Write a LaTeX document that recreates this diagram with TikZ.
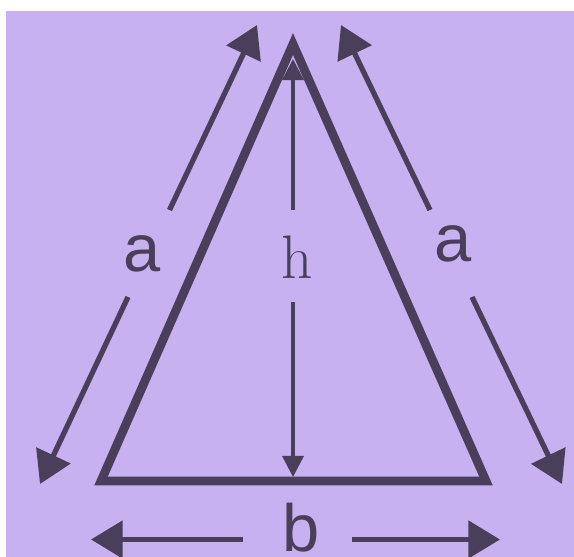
\documentclass[tikz,border=0pt]{standalone}
\usepackage{fontspec}
\newfontfamily\sidefont{Liberation Sans}
\usetikzlibrary{arrows.meta}

\definecolor{lilac}{RGB}{200,177,240}
\definecolor{ink}{RGB}{74,63,90}

\begin{document}
\begin{tikzpicture}[
  x=0.02cm, y=-0.02cm,
  side/.style={draw=ink, line width=5pt, line join=miter},
  dimline/.style={draw=ink, line width=3pt, -{Triangle[length=18pt, width=21pt]}},
  hline/.style={draw=ink, line width=1.9pt, -{Triangle[length=12pt, width=12pt]}},
  sidelabel/.style={anchor=base, inner sep=0pt, text=ink, font=\sidefont\fontsize{38}{40}\selectfont},
  hlabel/.style={anchor=base, inner sep=0pt, text=ink, font=\fontsize{35}{40}\selectfont}]
  % frame
  \useasboundingbox (0,0) rectangle (574,557);
  \fill[white] (0,0) rectangle (574,557);
  \fill[lilac] (5.5,11) rectangle (574,557);
  % triangle
  \coordinate (apex) at (293,44);
  \coordinate (bl) at (101,481);
  \coordinate (br) at (486,481);
  \draw[side] (apex) -- (bl) -- (br) -- cycle;
  % labels
  \node[sidelabel] (aleft)  at (142,271) {a};
  \node[sidelabel] (aright) at (453,261) {a};
  \node[hlabel]    (h)      at (297,278) {h};
  \node[sidelabel] (b)      at (301,551) {b};
  % end points of the dimension lines
  \coordinate (al top) at (257,25);   \coordinate (al gap1) at (169.5,210);
  \coordinate (al bot) at (40,484);   \coordinate (al gap2) at (128,297);
  \coordinate (ar top) at (341,25);   \coordinate (ar gap1) at (430,210);
  \coordinate (ar bot) at (562,484);  \coordinate (ar gap2) at (472,297);
  \coordinate (h top) at (293,59);    \coordinate (h gap1) at (293,210);
  \coordinate (h bot) at (293,477);   \coordinate (h gap2) at (293,302);
  \coordinate (b left) at (91,539.5); \coordinate (b gap1) at (243,539.5);
  \coordinate (b right) at (500,539.5); \coordinate (b gap2) at (352,539.5);
  % dimension lines
  \draw[dimline] (al gap1) -- (al top);
  \draw[dimline] (al gap2) -- (al bot);
  \draw[dimline] (ar gap1) -- (ar top);
  \draw[dimline] (ar gap2) -- (ar bot);
  \draw[hline] (h gap1) -- (h top);
  \draw[hline] (h gap2) -- (h bot);
  \draw[dimline] (b gap1) -- (b left);
  \draw[dimline] (b gap2) -- (b right);
\end{tikzpicture}
\end{document}
